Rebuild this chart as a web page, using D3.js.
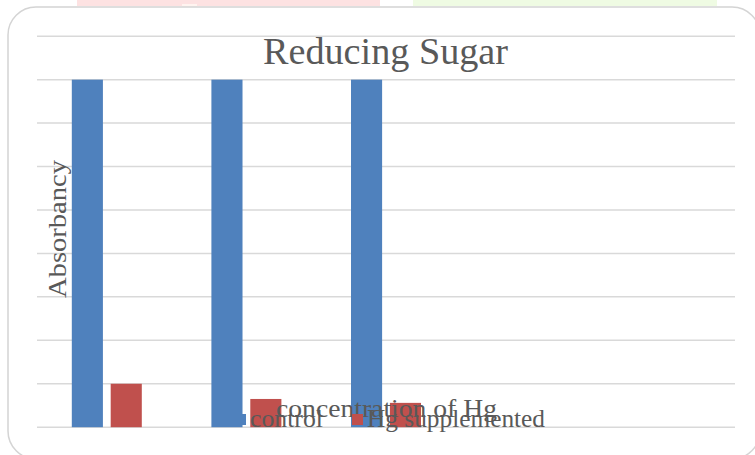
<!DOCTYPE html>
<html>
<head>
<meta charset="utf-8">
<script src="https://cdn.jsdelivr.net/npm/d3@7"></script>
<style>
  html, body { margin: 0; padding: 0; background: #fff; }
  svg { display: block; }
  text { font-family: "Liberation Serif", "DejaVu Serif", serif; fill: #595959; }
</style>
</head>
<body>
<svg id="chart" width="755" height="455"></svg>
<script>
// Reducing sugar absorbancy per Hg concentration level
const categories = ["1", "2", "3", "4", "5"];
const seriesNames = ["control", "Hg supplemented"];
const controlValues = [0.8, 0.8, 0.8, null, null];
const hgValues = [0.1, 0.065, 0.056, null, null];
const yTicks = [0, 0.1, 0.2, 0.3, 0.4, 0.5, 0.6, 0.7, 0.8, 0.9];
const seriesColors = ["#4f81bd", "#c0504d"];

const svg = d3.select("#chart");
const plot = { left: 37, right: 735, top: 36.2, bottom: 427.2 };

// decorative strips above the frame
svg.append("rect").attr("x", 77).attr("y", 0).attr("width", 303).attr("height", 6).attr("fill", "#fde2e2");
svg.append("rect").attr("x", 182).attr("y", 4).attr("width", 15).attr("height", 3).attr("fill", "#fff4f0");
svg.append("rect").attr("x", 413).attr("y", 0).attr("width", 304).attr("height", 6).attr("fill", "#effbe3");

// chart frame
svg.append("rect")
  .attr("x", 8).attr("y", 7).attr("width", 752).attr("height", 452)
  .attr("rx", 28).attr("ry", 28)
  .attr("fill", "#fff").attr("stroke", "#d4d4d4").attr("stroke-width", 1.5);

const x0 = d3.scaleBand().domain(categories).range([plot.left, plot.right]).paddingInner(0).paddingOuter(0);
const x1 = d3.scaleBand().domain(seriesNames).range([0, x0.bandwidth()]).paddingInner(0.2).paddingOuter(0.895);
const y = d3.scaleLinear().domain([0, 0.9]).range([plot.bottom, plot.top]);

// gridlines
svg.append("g")
  .selectAll("line").data(yTicks).join("line")
  .attr("x1", plot.left).attr("x2", plot.right)
  .attr("y1", d => y(d)).attr("y2", d => y(d))
  .attr("stroke", "#d9d9d9").attr("stroke-width", 1.5);

// bars
const rows = categories.map((c, i) => ({ cat: c, vals: [controlValues[i], hgValues[i]] }));
svg.append("g")
  .selectAll("g").data(rows).join("g")
  .attr("transform", d => `translate(${x0(d.cat)},0)`)
  .selectAll("rect")
  .data(d => d.vals.map((v, j) => ({ s: seriesNames[j], v, j })).filter(e => e.v != null))
  .join("rect")
  .attr("x", e => x1(e.s))
  .attr("width", x1.bandwidth())
  .attr("y", e => y(e.v))
  .attr("height", e => y(0) - y(e.v))
  .attr("fill", e => seriesColors[e.j]);

// title
svg.append("text")
  .attr("x", 263).attr("y", 64)
  .attr("font-size", 38)
  .attr("textLength", 245).attr("lengthAdjust", "spacingAndGlyphs")
  .text("Reducing Sugar");

// y axis title
svg.append("text")
  .attr("transform", "translate(66,298) rotate(-90)")
  .attr("font-size", 25)
  .attr("textLength", 138).attr("lengthAdjust", "spacingAndGlyphs")
  .text("Absorbancy");

// x axis title
svg.append("text")
  .attr("x", 276).attr("y", 417)
  .attr("font-size", 26)
  .attr("textLength", 221).attr("lengthAdjust", "spacingAndGlyphs")
  .text("concentration of Hg");

// legend
const legendX = [235, 352];
const legendTextLen = [73, 178];
const legend = svg.append("g");
seriesNames.forEach((name, i) => {
  legend.append("rect")
    .attr("x", legendX[i]).attr("y", 414).attr("width", 11).attr("height", 11)
    .attr("fill", seriesColors[i]);
  legend.append("text")
    .attr("x", legendX[i] + 15).attr("y", 427)
    .attr("font-size", 26)
    .attr("textLength", legendTextLen[i]).attr("lengthAdjust", "spacingAndGlyphs")
    .text(name);
});
</script>
</body>
</html>
